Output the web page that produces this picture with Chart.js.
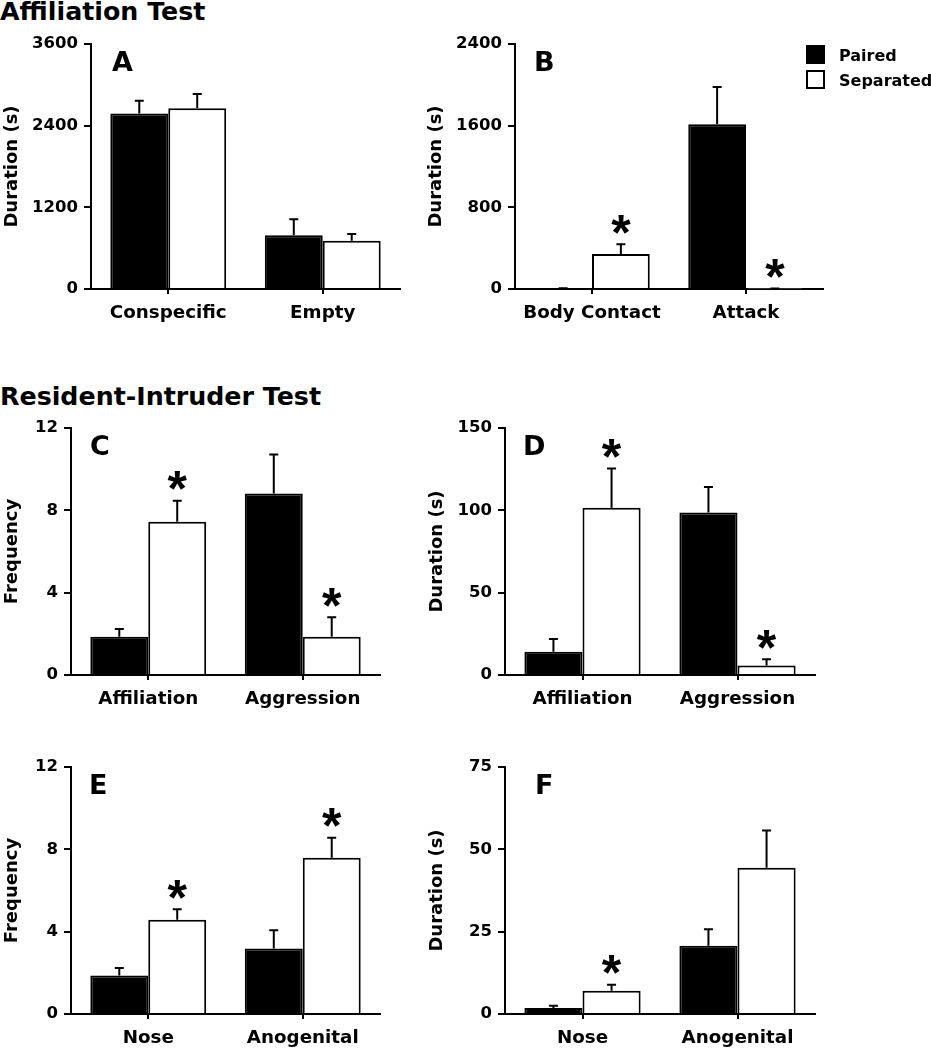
<!DOCTYPE html>
<html>
<head>
<meta charset="utf-8">
<script src="https://cdn.jsdelivr.net/npm/chart.js@4.4.1/dist/chart.umd.min.js"></script>
<style>
body { margin: 0; background: #fff; }
#page { position: relative; width: 931px; height: 1050px; overflow: hidden; font-family: "DejaVu Sans", sans-serif; }
canvas { position: absolute; }
.section { position: absolute; left: 0; font-weight: bold; font-size: 25.3px; line-height: 26px; color: #000; white-space: nowrap; }
</style>
</head>
<body>
<div id="page">
  <div class="section" style="top:-1px">Affiliation Test</div>
  <div class="section" style="top:384px">Resident-Intruder Test</div>
  <canvas id="chartA" width="420" height="340" style="left:0;top:0"></canvas>
  <canvas id="chartB" width="511" height="340" style="left:420px;top:0"></canvas>
  <canvas id="chartC" width="420" height="320" style="left:0;top:400px"></canvas>
  <canvas id="chartD" width="511" height="320" style="left:420px;top:400px"></canvas>
  <canvas id="chartE" width="420" height="320" style="left:0;top:730px"></canvas>
  <canvas id="chartF" width="511" height="320" style="left:420px;top:730px"></canvas>
</div>
<script>
/* DATA (means, SEM, significance of Separated vs Paired) */
const seriesNames = ['Paired', 'Separated'];

// A - affiliation test, duration
const catsA = ['Conspecific', 'Empty'];
const pairedA = [2580, 790];
const pairedErrA = [185, 235];
const sepA = [2655, 710];
const sepErrA = [210, 98];
const starsA = [false, false];
const ticksA = [0, 1200, 2400, 3600];

// B - affiliation test, duration
const catsB = ['Body Contact', 'Attack'];
const pairedB = [4, 1613];
const pairedErrB = [4, 366];
const sepB = [343, 3];
const sepErrB = [95, 3];
const starsB = [true, true];
const ticksB = [0, 800, 1600, 2400];

// C - resident-intruder, frequency
const catsC = ['Affiliation', 'Aggression'];
const pairedC = [1.86, 8.82];
const pairedErrC = [0.37, 1.89];
const sepC = [7.44, 1.86];
const sepErrC = [1.02, 0.94];
const starsC = [true, true];
const ticksC = [0, 4, 8, 12];

// D - resident-intruder, duration
const catsD = ['Affiliation', 'Aggression'];
const pairedD = [14.1, 98.7];
const pairedErrD = [7.7, 15.5];
const sepD = [101.5, 5.7];
const sepErrD = [23.9, 3.8];
const starsD = [true, true];
const ticksD = [0, 50, 100, 150];

// E - investigation, frequency
const catsE = ['Nose', 'Anogenital'];
const pairedE = [1.87, 3.18];
const pairedErrE = [0.36, 0.89];
const sepE = [4.58, 7.59];
const sepErrE = [0.51, 0.97];
const starsE = [true, true];
const ticksE = [0, 4, 8, 12];

// F - investigation, duration
const catsF = ['Nose', 'Anogenital'];
const pairedF = [1.8, 20.7];
const pairedErrF = [0.7, 5.0];
const sepF = [7.06, 44.4];
const sepErrF = [1.84, 11.3];
const starsF = [true, false];
const ticksF = [0, 25, 50, 75];

const FONT = '"DejaVu Sans", sans-serif';

/* error bars + asterisks, drawn from the y scale */
const errorBars = {
  id: 'errorBars',
  afterDatasetsDraw(chart) {
    const ctx = chart.ctx;
    const yScale = chart.scales.y;
    ctx.save();
    ctx.strokeStyle = '#000';
    ctx.fillStyle = '#000';
    ctx.lineWidth = 2;
    chart.data.datasets.forEach(function(ds, i) {
      chart.getDatasetMeta(i).data.forEach(function(bar, j) {
        const top = yScale.getPixelForValue(ds.data[j] + ds.errors[j]);
        ctx.beginPath();
        ctx.moveTo(bar.x, bar.y);
        ctx.lineTo(bar.x, top);
        ctx.moveTo(bar.x - 4.5, top);
        ctx.lineTo(bar.x + 4.5, top);
        ctx.stroke();
        if (ds.stars && ds.stars[j]) {
          ctx.font = 'bold 50px "Liberation Sans", Arial, sans-serif';
          ctx.textAlign = 'center';
          ctx.textBaseline = 'alphabetic';
          const m = ctx.measureText('*');
          const cy = top - 20;
          ctx.fillText('*', bar.x, cy + (m.actualBoundingBoxAscent - m.actualBoundingBoxDescent) / 2);
        }
      });
    });
    ctx.restore();
  }
};

/* panel letter and (panel B) legend */
const panelDecor = {
  id: 'panelDecor',
  afterDraw(chart, args, opts) {
    const ctx = chart.ctx;
    const area = chart.chartArea;
    ctx.save();
    ctx.fillStyle = '#000';
    ctx.font = 'bold 27px ' + FONT;
    ctx.textAlign = 'left';
    ctx.textBaseline = 'alphabetic';
    ctx.fillText(opts.letter, area.left + opts.letterDx, area.top + 27);
    if (opts.legend) {
      const lg = opts.legend;
      ctx.font = 'bold 16px ' + FONT;
      chart.data.datasets.forEach(function(ds, i) {
        const y = lg.y + i * 25;
        ctx.fillStyle = ds.backgroundColor;
        ctx.fillRect(lg.x, y, 19, 19);
        ctx.strokeStyle = '#000';
        ctx.lineWidth = 2;
        ctx.strokeRect(lg.x + 1, y + 1, 17, 17);
        ctx.fillStyle = '#000';
        ctx.fillText(ds.label, lg.x + 33, y + 16);
      });
    }
    ctx.restore();
  }
};

function makePanel(id, cats, paired, pairedErr, sep, sepErr, stars, ticks, yTitle, L) {
  const canvas = document.getElementById(id);
  const W = canvas.width, H = canvas.height;
  return new Chart(canvas, {
    type: 'bar',
    data: {
      labels: cats,
      datasets: [{
        label: seriesNames[0],
        data: paired,
        errors: pairedErr,
        backgroundColor: '#000',
        borderColor: '#000',
        borderWidth: 2,
      },
      {
        label: seriesNames[1],
        data: sep,
        errors: sepErr,
        stars: stars,
        backgroundColor: '#fff',
        borderColor: '#000',
        borderWidth: 2,
      }],
    },
    options: {
      responsive: false,
      devicePixelRatio: 1,
      animation: false,
      layout: { padding: { top: L.top, right: W - L.right, bottom: 0, left: 0 } },
      datasets: { bar: { categoryPercentage: 0.75, barPercentage: 1.0 } },
      plugins: {
        legend: { display: false },
        tooltip: { enabled: false },
        panelDecor: { letter: L.letter, letterDx: L.letterDx, legend: L.legend },
      },
      scales: {
        x: {
          grid: { display: true, drawOnChartArea: false, offset: false, tickLength: 5, color: '#000', lineWidth: 2 },
          border: { display: true, color: '#000', width: 2 },
          ticks: { color: '#000', padding: 8, font: { family: FONT, size: 18.3, weight: 'bold' } },
          afterFit: function(s) { s.height = H - L.bottom; },
        },
        y: {
          min: ticks[0],
          max: ticks[ticks.length - 1],
          afterBuildTicks: function(s) { s.ticks = ticks.map(function(v) { return { value: v }; }); },
          grid: { drawOnChartArea: false, tickLength: 7, color: '#000', lineWidth: 2 },
          border: { display: true, color: '#000', width: 2 },
          ticks: {
            color: '#000', padding: 6,
            font: { family: FONT, size: 16.5, weight: 'bold' },
            callback: function(v) { return String(v); },
          },
          title: {
            display: true, text: yTitle, color: '#000',
            font: { family: FONT, size: 18, weight: 'bold' },
            padding: { top: L.titlePad, bottom: 0 },
          },
          afterFit: function(s) { s.width = L.left; },
        },
      },
    },
    plugins: [errorBars, panelDecor],
  });
}

makePanel('chartA', catsA, pairedA, pairedErrA, sepA, sepErrA, starsA, ticksA, 'Duration (s)',
  { left: 91, right: 400, top: 44, bottom: 289, titlePad: 2, letter: 'A', letterDx: 21 });
makePanel('chartB', catsB, pairedB, pairedErrB, sepB, sepErrB, starsB, ticksB, 'Duration (s)',
  { left: 95, right: 403, top: 44, bottom: 289, titlePad: 6, letter: 'B', letterDx: 19,
    legend: { x: 386, y: 45 } });
makePanel('chartC', catsC, pairedC, pairedErrC, sepC, sepErrC, starsC, ticksC, 'Frequency',
  { left: 71, right: 380, top: 28, bottom: 275, titlePad: 2, letter: 'C', letterDx: 19 });
makePanel('chartD', catsD, pairedD, pairedErrD, sepD, sepErrD, starsD, ticksD, 'Duration (s)',
  { left: 85, right: 395, top: 28, bottom: 275, titlePad: 7, letter: 'D', letterDx: 18 });
makePanel('chartE', catsE, pairedE, pairedErrE, sepE, sepErrE, starsE, ticksE, 'Frequency',
  { left: 71, right: 380, top: 37, bottom: 284, titlePad: 2, letter: 'E', letterDx: 18 });
makePanel('chartF', catsF, pairedF, pairedErrF, sepF, sepErrF, starsF, ticksF, 'Duration (s)',
  { left: 85, right: 395, top: 37, bottom: 284, titlePad: 7, letter: 'F', letterDx: 30 });
</script>
</body>
</html>
